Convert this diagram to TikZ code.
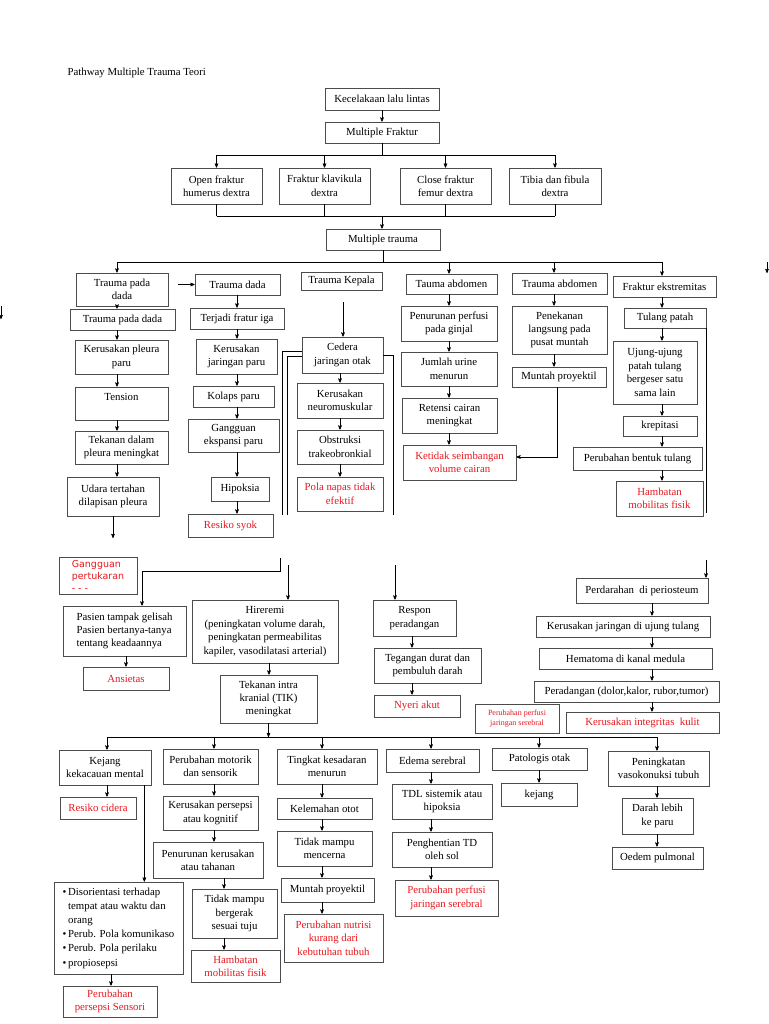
\documentclass[tikz,border=0pt]{standalone}
\usepackage{fontspec}
\setmainfont{Liberation Serif}
\newfontfamily\gpfont{DejaVu Sans}
\usetikzlibrary{arrows}
\definecolor{nred}{RGB}{232,24,30}

\tikzset{
  box/.style={draw=black!70, line width=0.7pt, align=center, inner sep=1pt,
    font=\fontsize{10.8}{13.4}\selectfont},
  bx/.style 2 args={box, minimum width=#1, minimum height=#2},
  dx/.style={text=nred},
}

\begin{document}
\begin{tikzpicture}[x=1pt,y=-1pt,>=stealth',line width=0.6pt]
\fill[white] (0,0) rectangle (768,1024);
\useasboundingbox (0,0) rectangle (768,1024);

\node[anchor=west, font=\fontsize{10.8}{13}\selectfont] (title) at (64,73) {Pathway Multiple Trauma Teori};

% columns
\coordinate (c1) at (117,0);
\coordinate (c2) at (237,0);
\coordinate (c3) at (340,0);
\coordinate (c4) at (449,0);
\coordinate (c5) at (554,0);
\coordinate (c5b) at (557,0);
\coordinate (c6) at (662,0);
\coordinate (ca) at (126,0);
\coordinate (cb) at (269,0);
\coordinate (cc) at (412,0);
\coordinate (cd) at (652,0);
\coordinate (d1) at (107,0);
\coordinate (de) at (111,0);
\coordinate (d2) at (214,0);
\coordinate (d2b) at (224,0);
\coordinate (d3) at (322,0);
\coordinate (d4) at (431,0);
\coordinate (d5) at (539,0);
\coordinate (d6) at (657,0);

% top
\node[bx={114}{22}] (kll) at (382,99) {Kecelakaan lalu lintas};
\node[bx={114}{21}] (mf) at (382,132.5) {Multiple Fraktur};
\node[bx={91}{36}] (f1) at (216.5,186) {Open fraktur\\humerus dextra};
\node[bx={91}{36}] (f2) at (324.5,186) {Fraktur klavikula\\dextra};
\node[bx={91}{36}] (f3) at (445.5,186) {Close fraktur\\femur dextra};
\node[bx={92}{36}] (f4) at (555,186) {Tibia dan fibula\\dextra};
\node[bx={114}{21}] (mt) at (383,239.5) {Multiple trauma};

% trauma pada dada
\node[bx={92}{33}] (dd1) at (122,289.5) {Trauma pada\\dada};
\node[bx={105}{21}] (dd2) at (122.5,319.5) {Trauma pada dada};
\node[bx={93}{34}] (kp) at (121.5,357) {Kerusakan pleura\\paru};
\node[bx={93}{33}] (tn) at (121.5,403.5) {Tension\\\mbox{}};
\node[bx={93}{33}] (tdp) at (121.5,447.5) {Tekanan dalam\\pleura meningkat};
\node[bx={92}{39}] (ud) at (113,496.5) {Udara tertahan\\dilapisan pleura};

\node[bx={85}{21}] (td) at (237.5,284.5) {Trauma dada};
\node[bx={94}{21}] (fi) at (237,318.5) {Terjadi fratur iga};
\node[bx={81}{35}] (kj) at (236.5,356.5) {Kerusakan\\jaringan paru};
\node[bx={81}{21}] (kol) at (233.5,396.5) {Kolaps paru};
\node[bx={91}{33}] (gg) at (233.5,435.5) {Gangguan\\ekspansi paru};
\node[bx={58}{24}] (hip) at (240,489) {Hipoksia};
\node[bx={85}{23}, dx] (rs) at (230.5,525.5) {Resiko syok};

% trauma kepala
\node[bx={81}{18}] (tk) at (341.5,281) {Trauma Kepala};
\node[bx={81}{36}] (ce) at (342.5,355) {Cedera\\jaringan otak};
\node[bx={86}{35}] (kn) at (340,400.5) {Kerusakan\\neuromuskular};
\node[bx={86}{34}] (ob) at (340,447) {Obstruksi\\trakeobronkial};
\node[bx={86}{34}, dx] (pn) at (340,494) {Pola napas tidak\\efektif};

% trauma abdomen
\node[bx={91}{20}] (ab1) at (451.5,284) {Tauma abdomen};
\node[bx={96}{35}] (pp) at (449,323.5) {Penurunan perfusi\\pada ginjal};
\node[bx={96}{34}] (ju) at (449,369) {Jumlah urine\\menurun};
\node[bx={95}{35}] (rc) at (449.5,415.5) {Retensi cairan\\meningkat};
\node[bx={113}{35}, dx] (ks) at (459.5,462.5) {Ketidak seimbangan\\volume cairan};

\node[bx={95}{21}] (ab2) at (559.5,283.5) {Trauma abdomen};
\node[bx={95}{48}] (pl) at (559.5,330) {Penekanan\\langsung pada\\pusat muntah};
\node[bx={94}{20}] (mp) at (559,377) {Muntah proyektil};

% fraktur ekstremitas
\node[bx={103}{21}] (fe) at (664.5,286.5) {Fraktur ekstremitas};
\node[bx={82}{20}] (tp) at (665,318) {Tulang patah};
\node[bx={84}{63}] (uj) at (655,372.5) {Ujung-ujung\\patah tulang\\bergeser satu\\sama lain};
\node[bx={74}{20}] (kr) at (660,426) {krepitasi};
\node[bx={129}{23}] (pb) at (637.5,458.5) {Perubahan bentuk tulang};
\node[bx={87}{35}, dx] (hm) at (659.5,498.5) {Hambatan\\mobilitas fisik};

% middle part
\node[bx={78}{37}, align=left, dx, font=\gpfont\fontsize{9.5}{12}\selectfont] (gp) at (98,575.5) {Gangguan\\pertukaran\\- - -};
\node[bx={123}{50}, align=left] (pa) at (124.5,631) {Pasien tampak gelisah\\Pasien bertanya-tanya\\tentang keadaannya};
\node[bx={86}{23}, dx] (an) at (126,678.5) {Ansietas};
\node[bx={146}{63}] (hr) at (265,631.5) {Hireremi\\(peningkatan volume darah,\\peningkatan permeabilitas\\kapiler, vasodilatasi arterial)};
\node[bx={97}{48}] (tik) at (268.5,699) {Tekanan intra\\kranial (TIK)\\meningkat};

\node[bx={83}{36}] (rp) at (414.5,618) {Respon\\peradangan};
\node[bx={107}{35}] (tg) at (427.5,665.5) {Tegangan durat dan\\pembuluh darah};
\node[bx={86}{22}, dx] (ny) at (417,706) {Nyeri akut};

\node[bx={132}{25}] (pd) at (642,590.5) {Perdarahan \ di periosteum};
\node[bx={174}{21}] (kjt) at (623,626.5) {Kerusakan jaringan di ujung tulang};
\node[bx={173}{21}] (hk) at (625.5,658.5) {Hematoma di kanal medula};
\node[bx={185}{21}] (prd) at (626.5,691.5) {Peradangan (dolor,kalor, rubor,tumor)};
\node[bx={153}{21}, dx] (kik) at (642.5,722.5) {Kerusakan integritas \ kulit};
\node[bx={84}{29}, dx, font=\fontsize{8}{10.5}\selectfont] (ppj) at (517,718.5) {Perubahan perfusi\\jaringan serebral};

% bottom part
\node[bx={92}{35}] (kj2) at (105,767.5) {Kejang\\kekacauan mental};
\node[bx={76}{22}, dx] (rc2) at (98,808) {Resiko cidera};
\node[bx={129}{92}, align=left] (ds) at (118.5,928) {\renewcommand\arraystretch{1.05}%
  \begin{tabular}{@{}l@{\,}l@{}}
  \textbullet & Disorientasi terhadap\\
   & tempat atau waktu dan\\
   & orang\\
  \textbullet & Perub. Pola komunikaso\\
  \textbullet & Perub. Pola perilaku\\
  \textbullet & propiosepsi
  \end{tabular}};
\node[bx={94}{31}, dx] (pps) at (110,1001.5) {Perubahan\\persepsi Sensori};

\node[bx={95}{35}] (pm) at (210.5,766.5) {Perubahan motorik\\dan sensorik};
\node[bx={95}{34}] (kps) at (210.5,813) {Kerusakan persepsi\\atau kognitif};
\node[bx={110}{36}] (pkt) at (208,860) {Penurunan kerusakan\\atau tahanan};
\node[bx={85}{49}] (tmb) at (234.5,913.5) {Tidak mampu\\bergerak\\sesuai tuju};
\node[bx={89}{32}, dx] (hmf) at (235.5,966) {Hambatan\\mobilitas fisik};

\node[bx={100}{35}] (tkm) at (327,766.5) {Tingkat kesadaran\\menurun};
\node[bx={95}{21}] (ko) at (324.5,808.5) {Kelemahan otot};
\node[bx={95}{35}] (tmc) at (324.5,848.5) {Tidak mampu\\mencerna};
\node[bx={93}{24}] (mp2) at (327.5,890) {Muntah proyektil};
\node[bx={99}{48}, dx] (pn2) at (333.5,938) {Perubahan nutrisi\\kurang dari\\kebutuhan tubuh};

\node[bx={93}{23}] (es) at (432.5,760.5) {Edema serebral};
\node[bx={100}{35}] (tdl) at (442,801.5) {TDL sistemik atau\\hipoksia};
\node[bx={100}{35}] (ph) at (442,849.5) {Penghentian TD\\oleh sol};
\node[bx={103}{36}, dx] (ppj2) at (446.5,898) {Perubahan perfusi\\jaringan serebral};

\node[bx={95}{22}] (po) at (539.5,759) {Patologis otak};
\node[bx={76}{23}] (kej) at (539,794.5) {kejang};

\node[bx={101}{35}] (pv) at (658.5,768.5) {Peningkatan\\vasokonuksi tubuh};
\node[bx={71}{36}] (dl) at (657.5,816) {Darah lebih\\ke paru};
\node[bx={91}{22}] (op) at (657.5,858) {Oedem pulmonal};

% buses
\coordinate (b1) at (382,155);
\coordinate (b2) at (382,216.5);
\coordinate (b3) at (383,262);
\coordinate (b4) at (383,737);
\draw[->] (kll) -- (mf);
\draw (mf) -- (b1);
\draw (b1 -| f1) -- (b1 -| f4);
\foreach \f in {f1,f2,f3,f4} \draw[->] (b1 -| \f) -- (\f);
\foreach \f in {f1,f2,f3,f4} \draw (\f) -- (b2 -| \f);
\draw (b2 -| f1) -- (b2 -| f4);
\draw[->] (b2) -- (b2 |- mt.north);
\draw (mt) -- (mt |- b3);
\draw (b3 -| c1) -- (b3 -| c6);
\foreach \c/\f in {c1/dd1,c4/ab1,c5/ab2,c6/fe} \draw[->] (b3 -| \c) -- (\f.north -| \c);
\draw[->] (tik) -- (tik |- b4);
\draw (b4 -| d1) -- (b4 -| d6);
\foreach \c/\f in {d1/kj2,d2/pm,d3/tkm,d4/es,d5/po,d6/pv} \draw[->] (b4 -| \c) -- (\f.north -| \c);

% chains
\foreach \u/\v/\c in {dd1/dd2/c1, dd2/kp/c1, kp/tn/c1, tn/tdp/c1, tdp/ud/c1,
    td/fi/c2, fi/kj/c2, kj/kol/c2, kol/gg/c2, gg/hip/c2, hip/rs/c2,
    ce/kn/c3, kn/ob/c3, ob/pn/c3,
    ab1/pp/c4, pp/ju/c4, ju/rc/c4, rc/ks/c4, ab2/pl/c5, pl/mp/c5,
    fe/tp/c6, tp/uj/c6, uj/kr/c6, kr/pb/c6, pb/hm/c6,
    pa/an/ca, hr/tik/cb, rp/tg/cc, tg/ny/cc,
    pd/kjt/cd, kjt/hk/cd, hk/prd/cd, prd/kik/cd,
    kj2/rc2/d1, ds/pps/de, pm/kps/d2, kps/pkt/d2, pkt/tmb/d2b, tmb/hmf/d2b,
    tkm/ko/d3, ko/tmc/d3, tmc/mp2/d3, mp2/pn2/d3,
    es/tdl/d4, tdl/ph/d4, ph/ppj2/d4, po/kej/d5, pv/dl/d6, dl/op/d6}
  \draw[->] (\u.south -| \c) -- (\v.north -| \c);

% loose ends
\coordinate (u1) at (0,538);
\draw[->] (ud) -- (ud |- u1);
\coordinate (a1) at (178,284.5);
\draw[->] (a1) -- (td);
\coordinate (a2) at (343,302);
\draw[->] (a2) -- (a2 |- ce.north);
\draw[->] (mp.south -| c5b) |- ([yshift=5.5pt]ks.east);
\draw (tp.south east) -- ++(0,185);
\draw ([yshift=4pt]ce.west) -| ++(-19,164);
\draw ([yshift=-1pt]ce.west) -| ++(-14,159);
\draw (ce.east) -| ++(10,160);
\coordinate (e1) at (767,262);
\draw[->] (e1) -- ++(0,11);
\coordinate (e2) at (1,306);
\draw[->] (e2) -- ++(0,13);
\coordinate (k1) at (280,558);
\coordinate (k2) at (142,571);
\draw (k1) -- (k1 |- k2) -- (k2);
\draw[->] (k2) -- (k2 |- pa.north);
\coordinate (k3) at (288,565);
\draw[->] (k3) -- (k3 |- hr.north);
\coordinate (k4) at (395,565);
\draw[->] (k4) -- (k4 |- rp.north);
\coordinate (k5) at (706,560);
\draw[->] (k5) -- (k5 |- pd.north);
\coordinate (kx) at ([xshift=-7pt]kj2.south east);
\draw[->] (kx) -- (kx |- ds.north);
\end{tikzpicture}
\end{document}
